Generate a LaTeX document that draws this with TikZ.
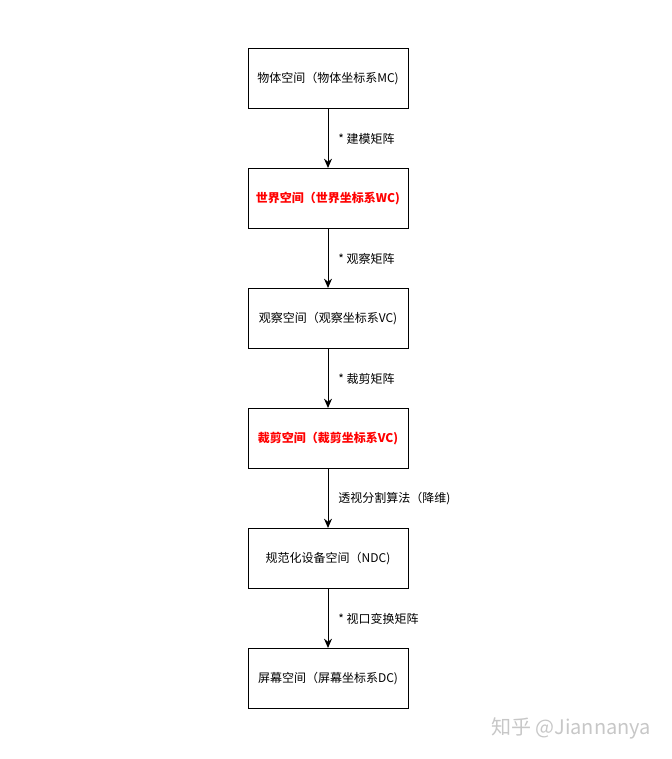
\documentclass[tikz,border=0pt]{standalone}
\usepackage{xcolor}
\usepackage{fontspec}
\usepackage{tikz}
\usetikzlibrary{positioning, arrows.meta}
\newfontfamily\cjk{Noto Sans CJK SC}
\definecolor{hotred}{HTML}{FF0000}
\tikzset{->,
         >={Stealth[length=7pt,width=6pt]},
         node distance=90pt,
         every node/.style={font=\cjk\fontsize{9}{11}\selectfont},
         space/.style={draw, thick, line width=0.75pt, minimum width=120pt, minimum height=45pt, inner sep=0pt},
         keyspace/.style={space, text=hotred, font=\cjk\bfseries\fontsize{9}{11}\selectfont},
         step label/.style={right, xshift=4pt},
         }

\begin{document}
\begin{tikzpicture}[x=0.75pt, y=-0.75pt, line width=0.75pt]
    \useasboundingbox (0,0) rectangle (671,759);
    \node[space] (mc) at (328,78.5) {物体空间（物体坐标系MC)};
    \node[keyspace, below of=mc] (wc) {世界空间（世界坐标系WC)};
    \node[space, below of=wc] (vc) {观察空间（观察坐标系VC)};
    \node[keyspace, below of=vc] (cc) {裁剪空间（裁剪坐标系VC)};
    \node[space, below of=cc] (ndc) {规范化设备空间（NDC)};
    \node[space, below of=ndc] (dc) {屏幕空间（屏幕坐标系DC)};

    \draw   (mc) edge node[step label]{* 建模矩阵} (wc)
            (wc) edge node[step label]{* 观察矩阵} (vc)
            (vc) edge node[step label]{* 裁剪矩阵} (cc)
            (cc) edge node[step label]{透视分割算法（降维)} (ndc)
            (ndc) edge node[step label]{* 视口变换矩阵} (dc);

    \node[anchor=east, text=black!22, font=\cjk\fontsize{15}{18}\selectfont] (mark) at (656,728) {知乎 @Jiannanya};
\end{tikzpicture}
\end{document}
